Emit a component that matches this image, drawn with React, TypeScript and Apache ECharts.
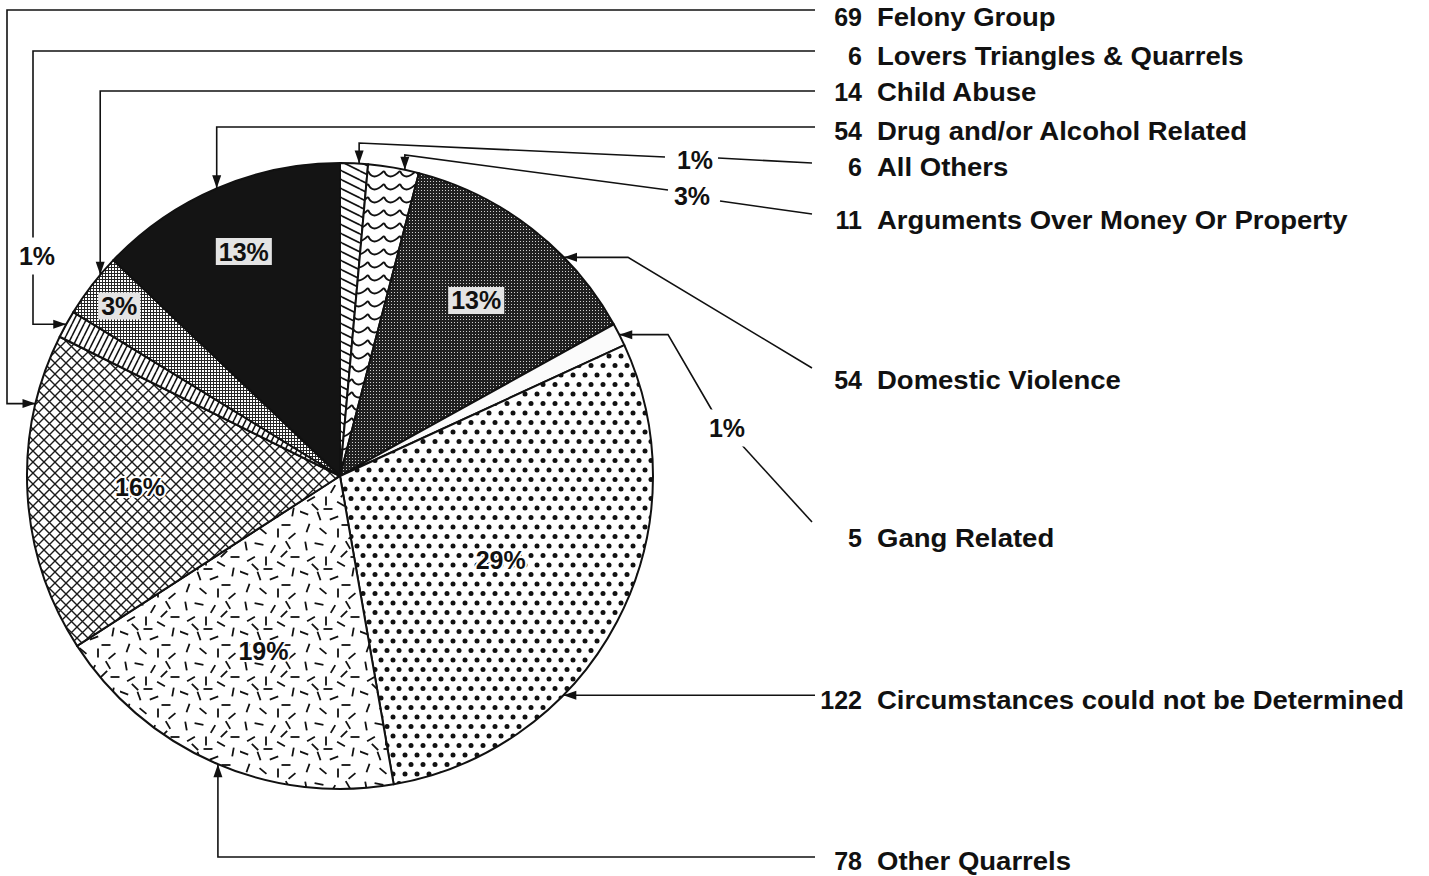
import React, { useEffect, useRef } from 'react';
import * as echarts from 'echarts';

// ---------------- data ----------------
const categories = [
  'All Others',
  'Arguments Over Money Or Property',
  'Domestic Violence',
  'Gang Related',
  'Circumstances could not be Determined',
  'Other Quarrels',
  'Felony Group',
  'Lovers Triangles & Quarrels',
  'Child Abuse',
  'Drug and/or Alcohol Related',
];
const counts = [6, 11, 54, 5, 122, 78, 69, 6, 14, 54];
const percentLabels = ['1%', '3%', '13%', '1%', '29%', '19%', '16%', '1%', '3%', '13%'];

// ---------------- layout / style ----------------
const CX = 340;
const CY = 476;
const R = 313;
const FONT = '"Liberation Sans", Arial, Helvetica, sans-serif';
const INK = '#111';

const innerLabelRadius = [0, 0, 0.71, 0, 0.58, 0.61, 0.64, 0, 0.89, 0.78];
const boxedLabel = [false, false, true, false, false, false, false, false, true, true];
const labelY = [167, 220, 380, 538, 700, 861, 17, 56, 92, 131];
const NUM_RIGHT_X = 862;
const NAME_LEFT_X = 877;
const NAME_STRETCH = 1.1;

type Leader = {
  t: number;
  kind: 'up' | 'down' | 'left' | 'right';
  xc?: number;
  yc?: number;
  rest: number[][];
  tail?: number[][];
  pct?: number[];
};
const leaders: Leader[] = [
  { t: 0.68, kind: 'up', yc: 143, rest: [[665, 157]], tail: [[718, 158], [812, 163]], pct: [695, 160] },
  { t: 0.72, kind: 'up', yc: 155, rest: [[668, 190]], tail: [[720, 201], [812, 214]], pct: [692, 196] },
  { t: 0.67, kind: 'right', xc: 628, rest: [[812, 368]] },
  { t: 0.5, kind: 'right', xc: 668, rest: [[713, 412]], tail: [[740, 443], [812, 522]], pct: [727, 428] },
  { t: 0.66, kind: 'right', xc: 815, rest: [] },
  { t: 0.49, kind: 'down', yc: 857, rest: [[815, 857]] },
  { t: 0.78, kind: 'left', xc: 7, yc: 10, rest: [[815, 10]] },
  { t: 0.5, kind: 'left', xc: 33, yc: 51, rest: [[815, 51]], pct: [37, 256] },
  { t: 0.7, kind: 'up', yc: 91, rest: [[815, 91]] },
  { t: 0.5, kind: 'up', yc: 127, rest: [[815, 127]] },
];

// Other Quarrels dash tile (60x60): [x, y, angleDeg]
const dashTile = [
  [6, 6, 80], [19, 4, 10], [33, 9, 120], [48, 5, 60], [55, 17, 0],
  [11, 19, 150], [26, 21, 90], [41, 24, 30], [53, 32, 100], [4, 33, 20],
  [19, 36, 70], [34, 38, 160], [46, 45, 0], [8, 48, 110], [23, 51, 40],
  [38, 53, 90], [52, 56, 140], [28, 29, 0], [15, 27, 45], [44, 14, 135],
];

// ---------------- helpers ----------------
const total = counts.reduce((a, b) => a + b, 0);
const startDeg = counts.map((_, i) => (counts.slice(0, i).reduce((a, b) => a + b, 0) / total) * 360);
const spanDeg = counts.map((v) => (v / total) * 360);
const pt = (deg: number, r: number): number[] => {
  const a = (deg * Math.PI) / 180;
  return [CX + r * Math.sin(a), CY - r * Math.cos(a)];
};

function makeCanvas(w: number, h: number, draw: (ctx: CanvasRenderingContext2D) => void) {
  const c = document.createElement('canvas');
  c.width = w;
  c.height = h;
  const ctx = c.getContext('2d') as CanvasRenderingContext2D;
  ctx.fillStyle = '#fff';
  ctx.fillRect(0, 0, w, h);
  ctx.strokeStyle = INK;
  ctx.fillStyle = INK;
  draw(ctx);
  return c;
}

function buildFills(): any[] {
  const pat = (c: HTMLCanvasElement) => ({ image: c, repeat: 'repeat' });
  const allOthers = makeCanvas(18, 9, (ctx) => {
    ctx.lineWidth = 1.7;
    for (const k of [-1, 0, 1]) {
      ctx.beginPath();
      ctx.moveTo(0, k * 9);
      ctx.lineTo(18, k * 9 + 9);
      ctx.stroke();
    }
  });
  const scallop = makeCanvas(16, 13, (ctx) => {
    ctx.lineWidth = 1.9;
    ctx.beginPath();
    ctx.moveTo(0, 2);
    ctx.quadraticCurveTo(5, 13, 16, 2);
    ctx.stroke();
  });
  const domestic = makeCanvas(3, 3, (ctx) => {
    ctx.fillStyle = '#202020';
    ctx.fillRect(0, 0, 3, 3);
    ctx.fillStyle = '#d0d0d0';
    ctx.fillRect(1, 1, 1, 1);
  });
  const dots = makeCanvas(12, 19, (ctx) => {
    for (const [x, y] of [[3, 4.5], [9, 14]]) {
      ctx.beginPath();
      ctx.arc(x, y, 2.5, 0, Math.PI * 2);
      ctx.fill();
    }
  });
  const dashes = makeCanvas(60, 60, (ctx) => {
    ctx.lineWidth = 1.8;
    ctx.lineCap = 'butt';
    for (const [x, y, a] of dashTile) {
      const r = (a * Math.PI) / 180;
      const dx = Math.cos(r) * 4.5;
      const dy = Math.sin(r) * 4.5;
      ctx.beginPath();
      ctx.moveTo(x - dx, y - dy);
      ctx.lineTo(x + dx, y + dy);
      ctx.stroke();
    }
  });
  const cross = makeCanvas(11, 11, (ctx) => {
    ctx.lineWidth = 1.4;
    ctx.strokeStyle = '#1a1a1a';
    for (const k of [-1, 0, 1]) {
      ctx.beginPath();
      ctx.moveTo(k * 11, 0);
      ctx.lineTo(k * 11 + 11, 11);
      ctx.moveTo(k * 11 + 11, 0);
      ctx.lineTo(k * 11, 11);
      ctx.stroke();
    }
  });
  const lovers = makeCanvas(6, 12, (ctx) => {
    ctx.lineWidth = 1.6;
    for (const k of [-1, 0, 1]) {
      ctx.beginPath();
      ctx.moveTo(k * 6, 12);
      ctx.lineTo(k * 6 + 6, 0);
      ctx.stroke();
    }
  });
  const child = makeCanvas(3, 3, (ctx) => {
    ctx.fillStyle = '#262626';
    ctx.fillRect(0, 0, 3, 1);
    ctx.fillRect(0, 0, 1, 3);
  });
  return [
    pat(allOthers),
    pat(scallop),
    pat(domestic),
    '#fbfbfb',
    pat(dots),
    pat(dashes),
    pat(cross),
    pat(lovers),
    pat(child),
    '#141414',
  ];
}

function textEl(text: string, x: number, y: number, align: string, extra: any = {}, scaleX = 1) {
  return {
    type: 'text',
    x,
    y,
    scaleX,
    silent: true,
    z: 20,
    style: {
      text,
      fill: INK,
      fontSize: 25,
      fontWeight: 'bold',
      fontFamily: FONT,
      align,
      verticalAlign: 'middle',
      textAlign: align,
      textVerticalAlign: 'middle',
      ...extra,
    },
  };
}

function buildGraphics(): any[] {
  const els: any[] = [];
  leaders.forEach((ld, i) => {
    const tip = pt(startDeg[i] + ld.t * spanDeg[i], R);
    let pts: number[][] = [tip];
    if (ld.kind === 'up' || ld.kind === 'down') {
      pts.push([tip[0], ld.yc as number]);
    } else if (ld.kind === 'right') {
      pts.push([ld.xc as number, tip[1]]);
    } else {
      pts.push([ld.xc as number, tip[1]]);
      pts.push([ld.xc as number, ld.yc as number]);
    }
    pts = pts.concat(ld.rest);
    els.push({
      type: 'polyline',
      silent: true,
      z: 10,
      shape: { points: pts },
      style: { stroke: INK, lineWidth: 1.6, fill: null },
    });
    if (ld.tail) {
      els.push({
        type: 'polyline',
        silent: true,
        z: 10,
        shape: { points: ld.tail },
        style: { stroke: INK, lineWidth: 1.6, fill: null },
      });
    }
    // arrow head
    const from = pts[1];
    const dxv = tip[0] - from[0];
    const dyv = tip[1] - from[1];
    const len = Math.hypot(dxv, dyv) || 1;
    const ux = dxv / len;
    const uy = dyv / len;
    const L = 13;
    const W = 4.5;
    els.push({
      type: 'polygon',
      silent: true,
      z: 11,
      shape: {
        points: [
          tip,
          [tip[0] - ux * L - uy * W, tip[1] - uy * L + ux * W],
          [tip[0] - ux * L + uy * W, tip[1] - uy * L - ux * W],
        ],
      },
      style: { fill: INK },
    });
    if (ld.pct) {
      els.push(
        textEl(percentLabels[i], ld.pct[0], ld.pct[1], 'center', {
          backgroundColor: '#fff',
          padding: [6, 1, 6, 1],
        })
      );
    }
    // right-hand category label
    els.push(textEl(String(counts[i]), NUM_RIGHT_X, labelY[i], 'right'));
    els.push(textEl(categories[i], NAME_LEFT_X, labelY[i], 'left', {}, NAME_STRETCH));
  });
  return els;
}

export default function App() {
  const ref = useRef<HTMLDivElement>(null);
  useEffect(() => {
    if (!ref.current) return;
    const chart = echarts.init(ref.current, null, { renderer: 'svg' });
    const fills = buildFills();
    const option: any = {
      animation: false,
      backgroundColor: '#fff',
      series: [
        {
          type: 'pie',
          center: [CX, CY],
          radius: R,
          startAngle: 90,
          clockwise: true,
          avoidLabelOverlap: false,
          silent: true,
          itemStyle: { borderColor: INK, borderWidth: 2 },
          labelLine: { show: false },
          emphasis: { disabled: true },
          label: {
            show: true,
            position: 'inside',
            formatter: (p: any) => percentLabels[p.dataIndex],
            fontSize: 25,
            fontWeight: 'bold',
            fontFamily: FONT,
            color: INK,
          },
          labelLayout: (p: any) => {
            const i = p.dataIndex;
            if (!innerLabelRadius[i]) return {};
            const q = pt(startDeg[i] + spanDeg[i] / 2, R * innerLabelRadius[i]);
            return { x: q[0], y: q[1], align: 'center', verticalAlign: 'middle' };
          },
          data: categories.map((name, i) => ({
            name,
            value: counts[i],
            itemStyle: { color: fills[i] },
            label: {
              show: innerLabelRadius[i] > 0,
              backgroundColor: boxedLabel[i] ? '#e4e4e4' : 'transparent',
              padding: boxedLabel[i] ? [2, 3, 0, 3] : 0,
              textBorderColor: boxedLabel[i] ? 'transparent' : '#fff',
              textBorderWidth: boxedLabel[i] ? 0 : 4,
            },
          })),
        },
      ],
      graphic: buildGraphics(),
    };
    chart.setOption(option);
    return () => chart.dispose();
  }, []);
  return (
    <div
      ref={ref}
      style={{ position: 'absolute', left: 0, top: 0, width: 1429, height: 876, background: '#fff' }}
    />
  );
}
